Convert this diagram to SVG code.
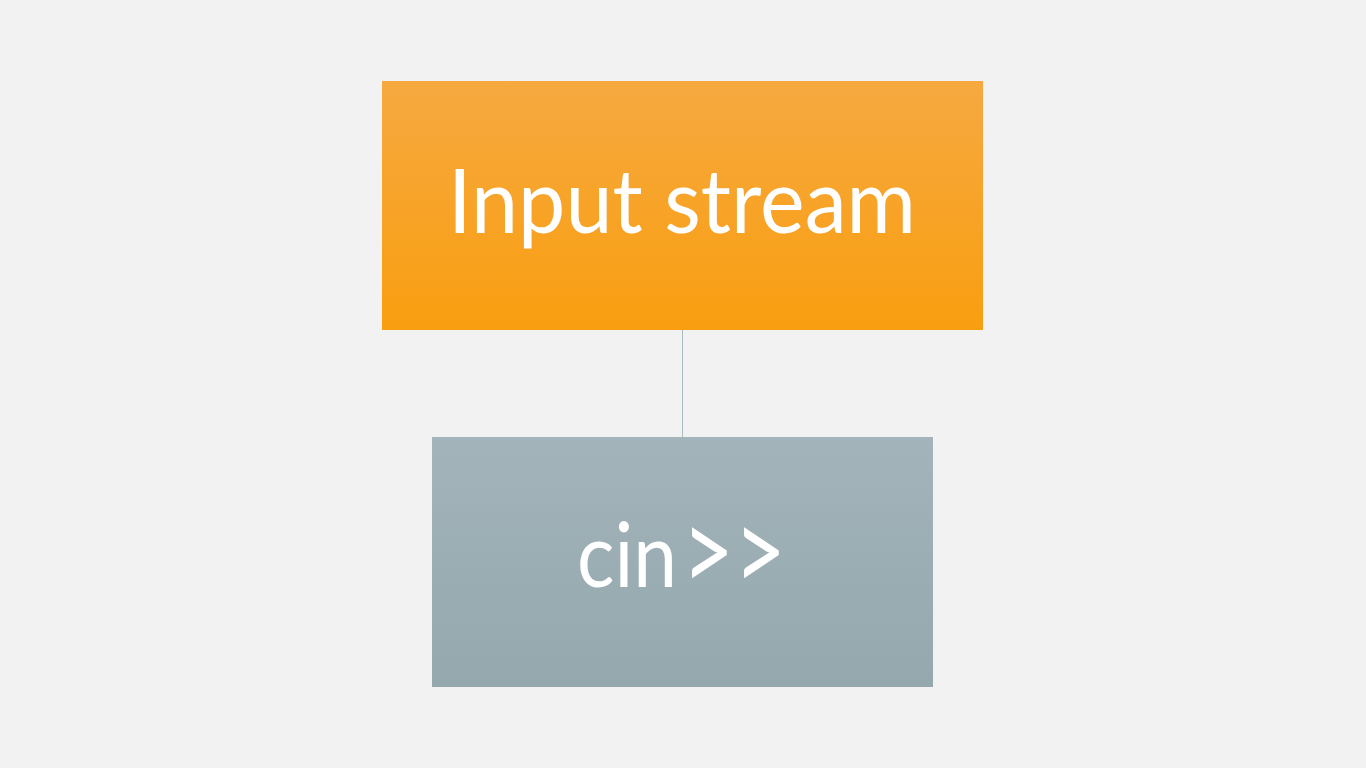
<svg xmlns="http://www.w3.org/2000/svg" width="1366" height="768" viewBox="0 0 1366 768">
<defs>
<linearGradient id="gO" x1="0" y1="0" x2="0" y2="1"><stop offset="0" stop-color="#F6A940"/><stop offset="1" stop-color="#F99E10"/></linearGradient>
<linearGradient id="gG" x1="0" y1="0" x2="0" y2="1"><stop offset="0" stop-color="#A3B4BA"/><stop offset="1" stop-color="#94A8AE"/></linearGradient>
<style>
.lbl{font-family:"Lato","Open Sans","Liberation Sans",sans-serif;font-size:90px;fill:#FFFFFF}
</style>
</defs>
<rect width="1366" height="768" fill="#F2F2F2"/>
<g id="connectors">
<line x1="682.5" y1="330" x2="682.5" y2="437" stroke="#A9BCC0" stroke-width="1"/>
</g>
<g id="node-input">
<rect x="382" y="81" width="601" height="249" fill="url(#gO)"/>
<text class="lbl" x="682" y="233" text-anchor="middle" textLength="468" lengthAdjust="spacingAndGlyphs">Input stream</text>
</g>
<g id="node-cin">
<rect x="432" y="437" width="501" height="250" fill="url(#gG)"/>
<text class="lbl" x="577" y="587" textLength="100" lengthAdjust="spacingAndGlyphs">cin</text>
<text class="lbl" x="682" y="592" style="font-size:116px" textLength="104" lengthAdjust="spacingAndGlyphs">&gt;&gt;</text>
</g>
</svg>
